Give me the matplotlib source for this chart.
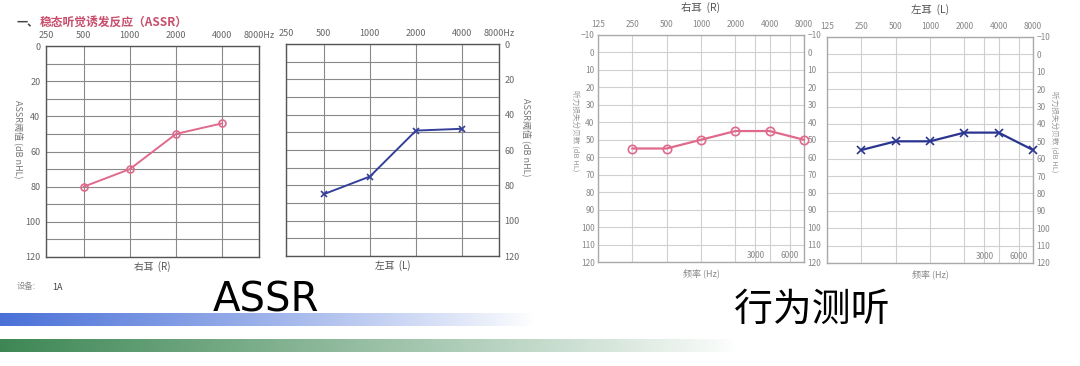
import numpy as np
import matplotlib
matplotlib.use('Agg')
import matplotlib.pyplot as plt
from matplotlib.ticker import NullFormatter, NullLocator

plt.rcParams['font.family'] = ['Noto Sans CJK SC', 'DejaVu Sans']

# ASSR thresholds (dB nHL)
assr_freqs = [500, 1000, 2000, 4000]
assr_right = [80, 70, 50, 44]
assr_left = [85, 75, 49, 48]

# behavioural audiometry (dB HL)
pta_freqs = [250, 500, 1000, 2000, 4000, 8000]
pta_right = [55, 55, 50, 45, 45, 50]
pta_left = [55, 50, 50, 45, 45, 55]

assr_top_labels = ['250', '500', '1000', '2000', '4000', '8000Hz']
pta_top_freqs = [125, 250, 500, 1000, 2000, 4000, 8000]
pta_extra_freqs = [3000, 6000]

PINK = '#e06a8c'
BLUE = '#34409a'
W, H = 1080, 366


def box(x0, y0, x1, y1):
    return [x0 / W, 1 - y1 / H, (x1 - x0) / W, (y1 - y0) / H]


def assr_panel(ax, vals, color, marker, side, xlabel):
    lo, hi = 500 * 2 ** -0.82, 4000 * 2 ** 0.8
    ax.set_xscale('log', base=2)
    ax.set_xlim(lo, hi)
    ax.set_ylim(120, 0)
    ax.xaxis.tick_top()
    ax.set_xticks([lo] + assr_freqs + [hi])
    ax.set_xticklabels(assr_top_labels)
    ax.xaxis.set_minor_locator(NullLocator())
    ax.set_yticks(range(0, 121, 20))
    ax.set_yticks(range(10, 120, 20), minor=True)
    ax.yaxis.set_minor_formatter(NullFormatter())
    if side == 'right':
        ax.yaxis.tick_right()
    ax.tick_params(which='both', length=0, labelsize=6.5, colors='#666', pad=4)
    ax.grid(True, which='both', color='#8a8a8a', lw=0.8)
    for s in ax.spines.values():
        s.set_color('#555')
        s.set_linewidth(1.0)
    ax.plot(assr_freqs, vals, color=color, lw=1.4, marker=marker,
            ms=5, mfc='none', mec=color, mew=1.2, zorder=3)
    ax.xaxis.set_label_position('bottom')
    ax.set_xlabel(xlabel, fontsize=7, color='#555', labelpad=3)
    ax.set_ylabel('ASSR阈值 (dB nHL)', fontsize=6.5, color='#777', rotation=-90,
                  va='center', ha='center')
    ax.yaxis.set_label_coords(-0.13 if side == 'left' else 1.13, 0.56)


def pta_panel(ax, vals, color, marker, title, label_side, left_ticks):
    ax.set_xscale('log', base=2)
    ax.set_xlim(125, 8000)
    ax.set_ylim(120, -10)
    ax.xaxis.tick_top()
    ax.set_xticks(pta_top_freqs)
    ax.set_xticklabels([str(f) for f in pta_top_freqs])
    ax.set_xticks(pta_extra_freqs, minor=True)
    ax.xaxis.set_minor_formatter(NullFormatter())
    ax.set_yticks(range(-10, 121, 10))
    ax.tick_params(which='both', length=0, labelsize=6, colors='#888', pad=4)
    ax.tick_params(axis='y', left=True, right=True, labelleft=left_ticks,
                   labelright=True, length=0, pad=2.5)
    ax.grid(True, which='both', color='#d0d0d0', lw=0.8)
    for s in ax.spines.values():
        s.set_color('#aaa')
        s.set_linewidth(1.0)
    for f in pta_extra_freqs:
        ax.text(f, 116, str(f), fontsize=6, color='#888', ha='center', va='center')
    ax.plot(pta_freqs, vals, color=color, lw=1.6, marker=marker,
            ms=6, mfc='none', mec=color, mew=1.2, zorder=3, clip_on=False)
    ax.text(0.5, 1.12, title, transform=ax.transAxes, fontsize=7.5, color='#555',
            ha='center', va='center')
    ax.xaxis.set_label_position('bottom')
    ax.set_xlabel('频率 (Hz)', fontsize=6.5, color='#888', labelpad=5)
    ax.set_ylabel('听力损失分贝数 (dB HL)', fontsize=5.5, color='#999', rotation=-90,
                  va='center', ha='center')
    if label_side == 'right':
        ax.yaxis.set_label_position('right')
        ax.yaxis.set_label_coords(1.125, 0.58)
    else:
        ax.yaxis.set_label_coords(-0.11, 0.58)


fig = plt.figure(figsize=(10.8, 3.66), dpi=100)

# background: gradient bars
bg = fig.add_axes([0, 0, 1, 1], zorder=-5)
bg.set_xlim(0, W)
bg.set_ylim(H, 0)
bg.axis('off')
ramp = np.linspace(0, 1, 256)
blue_img = np.ones((1, 256, 4))
blue_img[0, :, :3] = [0.29, 0.44, 0.85]
blue_img[0, :, 3] = (1 - ramp) ** 0.9
bg.imshow(blue_img, extent=(0, 535, 326, 313), aspect='auto', interpolation='bilinear')
green_img = np.ones((1, 256, 4))
green_img[0, :, :3] = [0.24, 0.53, 0.33]
green_img[0, :, 3] = (1 - ramp) ** 0.9
bg.imshow(green_img, extent=(0, 740, 352, 339), aspect='auto', interpolation='bilinear')

ax1 = fig.add_axes(box(46, 46, 259, 257))
assr_panel(ax1, assr_right, PINK, 'o', 'left', '右耳  (R)')
ax2 = fig.add_axes(box(286, 44, 499, 256))
assr_panel(ax2, assr_left, BLUE, 'x', 'right', '左耳  (L)')

ax3 = fig.add_axes(box(598, 35, 804, 262))
pta_panel(ax3, pta_right, PINK, 'o', '右耳  (R)', 'left', True)
ax4 = fig.add_axes(box(827, 37, 1033, 263))
pta_panel(ax4, pta_left, '#2a3590', 'x', '左耳  (L)', 'right', False)

fig.text(17 / W, 1 - 22 / H, '一、', fontsize=8, color='#444', va='center', weight='bold')
fig.text(40 / W, 1 - 22 / H, '稳态听觉诱发反应（ASSR）', fontsize=8.5, color='#c84e6c',
         va='center', weight='bold')
fig.text(17 / W, 1 - 287 / H, '设备:', fontsize=6, color='#888', va='center')
fig.text(52 / W, 1 - 287 / H, '1A', fontsize=6.5, color='#444', va='center')

fig.text(266 / W, 1 - 300 / H, 'ASSR', fontsize=29, color='black', ha='center',
         va='center', family=['DejaVu Sans'])
fig.text(812 / W, 1 - 310 / H, '行为测听', fontsize=28, color='black', ha='center',
         va='center')

fig.savefig('out.png', dpi=100)
